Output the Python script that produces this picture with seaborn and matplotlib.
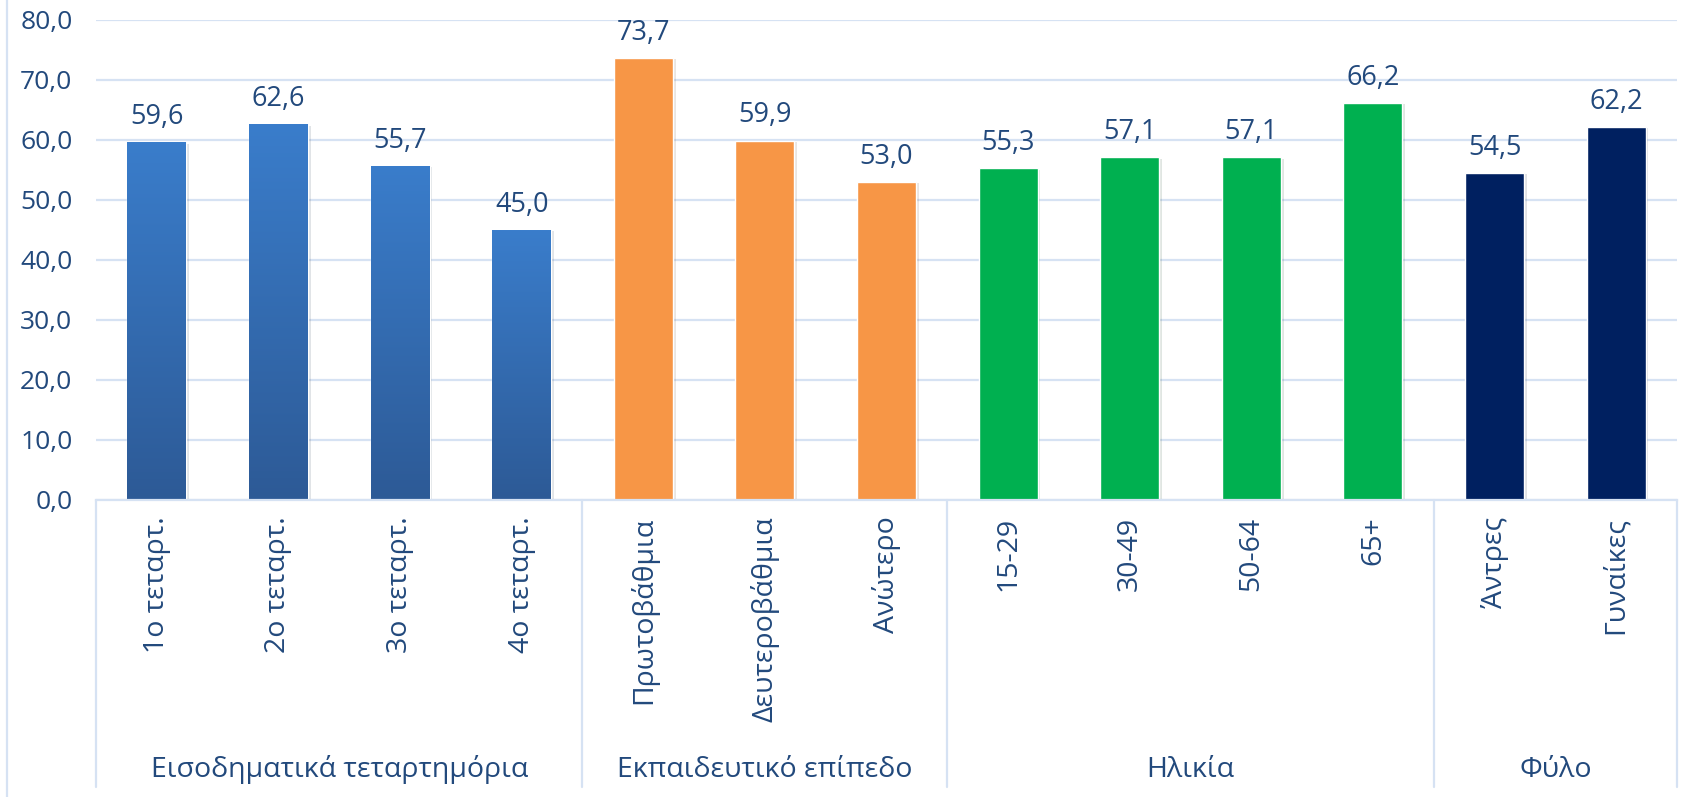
import numpy as np
import pandas as pd
import seaborn as sns
import matplotlib.pyplot as plt
import matplotlib.patheffects as pe
from matplotlib.lines import Line2D
from matplotlib.colors import LinearSegmentedColormap

# data
categories = ['1ο τεταρτ.', '2ο τεταρτ.', '3ο τεταρτ.', '4ο τεταρτ.',
              'Πρωτοβάθμια', 'Δευτεροβάθμια', 'Ανώτερο',
              '15-29', '30-49', '50-64', '65+',
              'Άντρες', 'Γυναίκες']
values = [59.6, 62.6, 55.7, 45.0,
          73.7, 59.9, 53.0,
          55.3, 57.1, 57.1, 66.2,
          54.5, 62.2]
groups = ['Εισοδηματικά τεταρτημόρια', 'Εκπαιδευτικό επίπεδο', 'Ηλικία', 'Φύλο']
group_sizes = [4, 3, 4, 2]
group_colors = ['#3577C2', '#F79646', '#00B050', '#002060']

TEXT = '#22497C'
GRID = '#D6E2F3'

sns.set_theme(style='white')
plt.rcParams['font.family'] = ['Open Sans', 'DejaVu Sans']

df = pd.DataFrame({'cat': categories, 'val': values})
palette = [c for c, n in zip(group_colors, group_sizes) for _ in range(n)]

fig = plt.figure(figsize=(16.94, 7.97), dpi=100)
ax = fig.add_axes([96 / 1694, 297 / 797, (1677 - 96) / 1694, 480 / 797])

sns.barplot(data=df, x='cat', y='val', hue='cat', palette=palette,
            order=categories, hue_order=categories, width=0.485,
            legend=False, ax=ax, saturation=1, zorder=3)

# blue gradient for the income quartile bars, light shadow on all bars
grad = np.linspace(0, 1, 256).reshape(-1, 1)
blue_cmap = LinearSegmentedColormap.from_list('b', ['#3A7DCB', '#2D5A96'])
for i, p in enumerate(ax.patches):
    p.set_path_effects([pe.SimplePatchShadow(offset=(2, -1), alpha=0.12), pe.Normal()])
    if i < group_sizes[0]:
        x0, y0 = p.get_x(), p.get_y()
        w, h = p.get_width(), p.get_height()
        im = ax.imshow(grad, cmap=blue_cmap, aspect='auto', origin='upper',
                       extent=[x0, x0 + w, y0, y0 + h], zorder=4)
        im.set_clip_path(p)

ax.set_xlim(-0.5, len(categories) - 0.5)
ax.set_ylim(0, 80)
ax.set_yticks(np.arange(0, 81, 10))
ax.set_yticklabels([f'{v:.1f}'.replace('.', ',') for v in np.arange(0, 81, 10)],
                   fontsize=19, color=TEXT)
ax.tick_params(axis='y', length=0, pad=17)
ax.tick_params(axis='x', length=0, pad=12)
ax.set_xticks(range(len(categories)))
ax.set_xticklabels(categories, rotation=90, fontsize=20.5, color=TEXT, va='top')
ax.set_xlabel('')
ax.set_ylabel('')
ax.grid(axis='y', color=GRID, linewidth=1.6, zorder=0)
ax.set_axisbelow(True)
for s in ['top', 'right', 'left']:
    ax.spines[s].set_visible(False)
ax.spines['bottom'].set_color(GRID)
ax.spines['bottom'].set_linewidth(1.6)
ax.spines['bottom'].set_zorder(5)

for i, v in enumerate(values):
    ax.annotate(f'{v:.1f}'.replace('.', ','), (i, v), xytext=(0, 8),
                textcoords='offset points', ha='center', va='bottom',
                fontsize=19.5, color=TEXT)

# group separators and group labels below the axis
trans = ax.get_xaxis_transform()
bounds = np.concatenate([[0], np.cumsum(group_sizes)]) - 0.5
for b in bounds:
    ax.add_line(Line2D([b, b], [0, -0.598], transform=trans, color=GRID,
                       linewidth=1.6, clip_on=False))
for g, lo, hi in zip(groups, bounds[:-1], bounds[1:]):
    ax.text((lo + hi) / 2, -0.5625, g, transform=trans, ha='center', va='center',
            fontsize=20.5, color=TEXT)

# outer chart frame on the left
fig.add_artist(Line2D([7 / 1694, 7 / 1694], [0, 1], transform=fig.transFigure,
                      color=GRID, linewidth=1.6))

fig.savefig('out.png', dpi=100)
